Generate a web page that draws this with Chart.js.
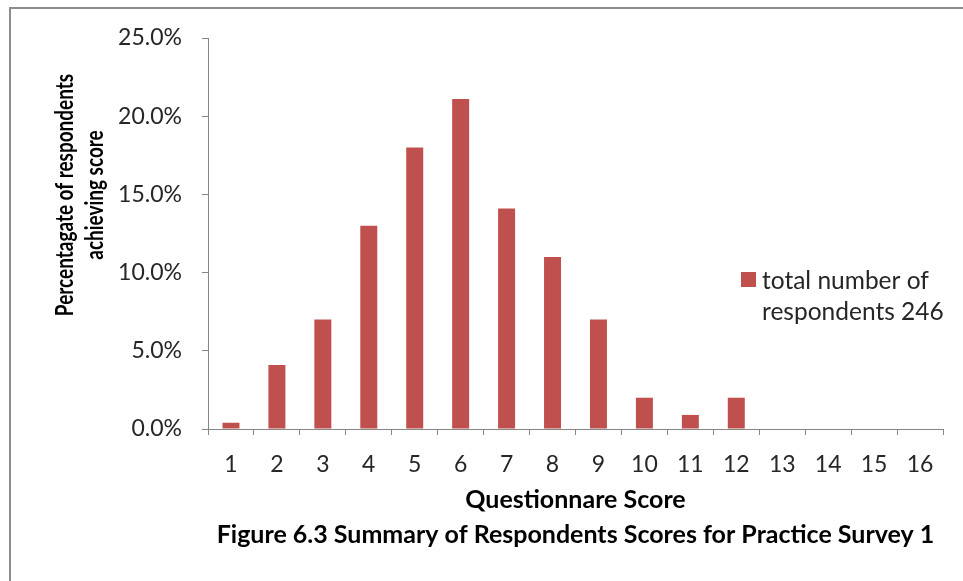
<!DOCTYPE html>
<html>
<head>
<meta charset="utf-8">
<script src="https://cdn.jsdelivr.net/npm/chart.js@4.4.1/dist/chart.umd.min.js"></script>
<style>
  html, body { margin: 0; padding: 0; background: #fff; }
</style>
</head>
<body>
<canvas id="Scores" width="963" height="581"></canvas>
<script>
const scores = ['1', '2', '3', '4', '5', '6', '7', '8', '9', '10', '11', '12', '13', '14', '15', '16'];
const percentages = [0.4, 4.1, 7.0, 13.0, 18.0, 21.1, 14.1, 11.0, 7.0, 2.0, 0.9, 2.0, 0, 0, 0, 0];
const yTicks = [0, 5, 10, 15, 20, 25];
const seriesLabel = ['total number of', 'respondents 246'];
const yTitle = ['Percentagate of respondents', 'achieving score'];
const xTitle = ['Questionnare Score', 'Figure 6.3 Summary of Respondents Scores for Practice Survey 1'];

const ctx = document.getElementById('Scores');
const axisGray = '#868686';
const textColor = '#262626';

// frame, axis titles and legend drawn on top
const decor = {
    id: 'decor',
    afterDraw(chart) {
        const c = chart.ctx;
        const area = chart.chartArea;
        c.save();
        c.strokeStyle = '#8c8c8c';
        c.lineWidth = 2;
        c.beginPath();
        c.moveTo(10, 581);
        c.lineTo(10, 8);
        c.lineTo(963, 8);
        c.stroke();

        c.fillStyle = '#000';
        c.textAlign = 'center';
        c.textBaseline = 'middle';
        // y title (source picture is stretched sideways, so squeeze along the text)
        c.font = 'bold 24px Lato';
        c.save();
        c.translate(65, 195);
        c.rotate(-Math.PI / 2);
        c.scale(0.79, 1);
        c.fillText(yTitle[0], 0, 0);
        c.fillText(yTitle[1], 0, 30);
        c.restore();
        // x title
        c.font = 'bold 25px Lato';
        const cx = (area.left + area.right) / 2;
        c.fillText(xTitle[0], cx, 500);
        c.fillText(xTitle[1], cx, 535);

        // legend
        const ds = chart.data.datasets[0];
        c.fillStyle = ds.backgroundColor;
        c.fillRect(741, 272, 15, 15);
        c.fillStyle = textColor;
        c.font = '24.5px Lato';
        c.textAlign = 'left';
        c.fillText(seriesLabel[0], 762, 281);
        c.fillText(seriesLabel[1], 762, 312);
        c.restore();
    }
};

new Chart(ctx, {
    type: 'bar',
    data: {
        labels: scores,
        datasets: [{
            label: seriesLabel.join(' '),
            data: percentages,
            backgroundColor: '#C0504D',
            borderWidth: 0,
            barPercentage: 0.37,
            categoryPercentage: 1
        }]
    },
    options: {
        responsive: false,
        animation: false,
        devicePixelRatio: 1,
        layout: { padding: { top: 38, right: 20, left: 0, bottom: 0 } },
        plugins: {
            legend: { display: false },
            tooltip: { enabled: false }
        },
        scales: {
            x: {
                grid: { drawOnChartArea: false, drawTicks: true, tickLength: 6, color: axisGray, offset: true },
                border: { color: axisGray, width: 1 },
                ticks: { color: textColor, font: { family: 'Lato', size: 23 }, padding: 16, maxRotation: 0 },
                afterFit(scale) { scale.height = 152; }
            },
            y: {
                min: 0,
                max: 25,
                afterBuildTicks(scale) { scale.ticks = yTicks.map(v => ({ value: v })); },
                grid: { drawOnChartArea: false, drawTicks: true, tickLength: 6, color: axisGray },
                border: { color: axisGray, width: 1 },
                ticks: {
                    color: textColor,
                    font: { family: 'Lato', size: 23 },
                    padding: 20,
                    callback: v => v.toFixed(1) + '%'
                },
                afterFit(scale) { scale.width = 208; }
            }
        }
    },
    plugins: [decor]
});
</script>
</body>
</html>
